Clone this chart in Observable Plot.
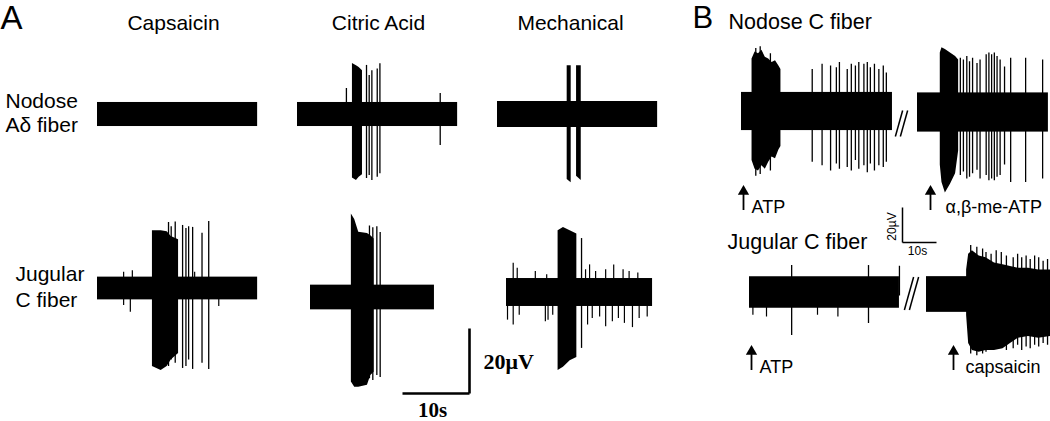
<!DOCTYPE html>
<html><head><meta charset="utf-8">
<script src="https://cdn.jsdelivr.net/npm/d3@7"></script>
<script src="https://cdn.jsdelivr.net/npm/@observablehq/plot@0.6"></script>
<style>html,body{margin:0;padding:0;background:#fff}svg{display:block}</style>
</head><body><div id="chart"></div>
<script>
// ================= DATA (time in s, voltage in µV) =================
const panelLetters = ["A", "B"];
const stimuliA = ["Capsaicin", "Citric Acid", "Mechanical"];
const fibersA = [["Nodose", "Aδ fiber"], ["Jugular", "C fiber"]];
const fibersB = ["Nodose C fiber", "Jugular C fiber"];
const stimuliB = [["ATP", "α,β-me-ATP"], ["ATP", "capsaicin"]];
const scaleBarA = {uV: 20, s: 10, vLabel: "20μV", hLabel: "10s"};
const scaleBarB = {uV: 20, s: 10, vLabel: "20µV", hLabel: "10s"};

// trace: [duration s, baseline noise ± µV]
const traceBase = {
  aNodCap: [23.9, 3.7], aNodCit: [23.9, 3.7], aNodMech: [23.9, 4.0],
  aJugCap: [23.9, 3.5], aJugCit: [18.5, 3.8], aJugMech: [21.8, 4.3],
  bNodATP: [44.4, 10.9], bNodMe: [38.5, 11.2], bJugATP: [44.1, 9.0], bJugCap: [36.5, 10.2]
};
// burst envelopes: each burst is a list of [t, top µV, bottom µV]
const burstsANodCit = [[[8.2, 15.7, -19.5], [8.8, 15.0, -20.3], [9.2, 14.5, -19.3], [9.7, 13.5, -18.5]]];
const burstsANodMech = [[[10.4, 15.0, -20.0], [11.0, 15.0, -21.0]], [[11.8, 15.0, -19.0], [12.5, 15.0, -20.3]]];
const burstsAJugCap = [[[8.2, 17.8, -24.0], [9.5, 17.8, -25.2], [10.4, 17.5, -24.0], [11.0, 16.0, -22.0], [12.1, 15.0, -20.0]]];
const burstsAJugCit = [[[6.1, 25.7, -26.0], [6.6, 24.0, -27.6], [7.2, 20.1, -27.6], [8.5, 19.7, -27.0], [9.0, 19.0, -24.0], [9.5, 18.0, -23.0]]];
const burstsAJugMech = [[[7.7, 19.0, -24.0], [8.5, 20.0, -23.0], [9.5, 19.0, -21.0], [10.5, 18.0, -20.0]]];
const burstsBNodATP = [[[3.1, 30, -28], [4.0, 34, -33], [5.0, 33, -34], [6.0, 35, -31], [7.0, 31, -33],
  [8.0, 30, -29], [9.0, 28, -26], [10.0, 29, -27], [11.0, 26, -22], [11.6, 24, -20]]];
const burstsBNodMe = [[[6.7, 34, -30], [7.2, 37, -40], [8.2, 36, -46], [9.7, 34, -41], [11.2, 32, -35], [12.1, 30, -22]]];
const burstsBJugCap = [[[11.8, 14, -12], [12.4, 23, -28], [13.5, 25, -32], [15.5, 22, -33], [17.5, 21, -32],
  [20.0, 18, -32], [22.5, 17, -31], [24.7, 16, -28], [27.0, 15, -25], [30.0, 15, -24], [33.0, 14, -25], [36.5, 14, -24]]];
// spikes: [t, top µV, bottom µV]
const spikesANodCit = [[7.3, 8.0, -2.5], [10.3, 15.1, -19.7], [10.7, 12.0, -18.8], [11.1, 13.5, -20.3],
  [11.9, 14.0, -19.3], [12.3, 15.6, -18.2], [21.3, 6.5, -9.5]];
const spikesANodMech = [];
const spikesAJugCap = [[10.6, 20.3, -24.0], [11.0, 19.0, -22.0], [11.6, 20.5, -23.0], [12.7, 19.4, -24.6],
  [13.2, 18.5, -24.0], [13.6, 19.0, -22.0], [14.2, 18.8, -24.9], [15.6, 17.0, -23.0], [16.6, 20.6, -24.9]];
const spikesAJugCit = [[8.8, 22.0, -25.0], [9.3, 21.5, -25.5], [9.9, 21.8, -24.0], [10.4, 20.0, -24.6]];
const spikesAJugMech = [[11.2, 16.6, -17.2]];
const spikesBNodATP = [[4.2, 36, -37], [5.5, 37, -36], [8.5, 33, -34], [20.8, 24, -29], [23.7, 27, -31], [26.2, 26, -34],
  [27.9, 25, -30], [28.8, 28, -33], [31.1, 24, -32], [32.3, 27, -34], [33.5, 26, -28], [34.5, 28, -33],
  [36.0, 27, -31], [37.0, 28, -35], [37.9, 25, -30], [39.1, 27, -34], [40.4, 24, -31], [41.7, 26, -32], [42.6, 22, -29]];
const spikesBNodMe = [[12.6, 31, -36], [13.5, 30, -34], [14.5, 32, -38], [15.3, 29, -37], [16.2, 31, -35],
  [17.5, 28, -33], [18.4, 30, -38], [20.2, 33, -36], [21.0, 34, -39], [21.8, 33, -38], [22.6, 34, -39],
  [23.4, 32, -37], [24.3, 30, -36], [25.6, 26, -30], [27.4, 31, -40], [31.8, 31, -40], [36.8, 30, -38]];
const spikesBJugATP = [[12.4, 15.4, -24.6], [35.0, 15.4, -17.7], [44.1, 15.0, -2.0]];
const spikesBJugCap = [[13.0, 28, -34], [14.8, 27, -35], [16.5, 26, -34], [17.5, 24, -33], [19.0, 23, -32],
  [20.5, 25, -31], [22.0, 24, -30], [23.5, 22, -32], [25.5, 21, -31], [26.8, 23, -29], [28.0, 21, -32],
  [29.3, 22, -30], [30.5, 20, -31], [31.8, 22, -29], [33.0, 21, -30], [34.3, 19, -28], [35.6, 20, -29]];
// small noise excursions: [t, µV]
const noiseAJugCap = [[3.9, 5.0], [3.9, -5.2], [4.9, -7.3], [5.2, 5.5], [18.1, -5.5], [14.5, 5.0]];
const noiseAJugMech = [[0.15, -8.5], [1.0, -10], [1.9, -7], [5.8, -9], [6.2, -8.5], [6.9, -7], [12.1, -10],
  [12.8, -8], [13.9, -7.5], [14.8, -10.5], [15.8, -9], [16.7, -8], [17.6, -9.5], [18.8, -10.8], [19.8, -8],
  [21.0, -7.5], [1.0, 9], [1.6, 7.5], [4.3, 6.5], [6.0, 5.5], [11.8, 7], [12.4, 8.5], [13.3, 6.5],
  [14.8, 7], [16.0, 8.5], [17.4, 7], [18.3, 6.5], [19.6, 6]];
const noiseBJugATP = [[1.0, -13], [5.0, -14], [20.0, -13], [26.0, -14]];

// ================= LAYOUT (pixels) =================
const W = 1050, H = 421;
const A = {sx: 6.7, sy: 3.25}, B = {sx: 3.4, sy: 1.75};
const traces = [
  {id: "aNodCap", k: A, x0: 97, y0: 114},
  {id: "aNodCit", k: A, x0: 297, y0: 114, bursts: burstsANodCit, spikes: spikesANodCit},
  {id: "aNodMech", k: A, x0: 497, y0: 114, bursts: burstsANodMech, spikes: spikesANodMech},
  {id: "aJugCap", k: A, x0: 97, y0: 288, bursts: burstsAJugCap, spikes: spikesAJugCap, noise: noiseAJugCap},
  {id: "aJugCit", k: A, x0: 310, y0: 297, bursts: burstsAJugCit, spikes: spikesAJugCit},
  {id: "aJugMech", k: A, x0: 506, y0: 292, bursts: burstsAJugMech, spikes: spikesAJugMech, noise: noiseAJugMech},
  {id: "bNodATP", k: B, x0: 741, y0: 111, bursts: burstsBNodATP, spikes: spikesBNodATP},
  {id: "bNodMe", k: B, x0: 917, y0: 112, bursts: burstsBNodMe, spikes: spikesBNodMe},
  {id: "bJugATP", k: B, x0: 749, y0: 292, spikes: spikesBJugATP, noise: noiseBJugATP},
  {id: "bJugCap", k: B, x0: 926, y0: 294, bursts: burstsBJugCap, spikes: spikesBJugCap}
];

const bands = [], envelopePts = [], spikeRules = [], noiseRules = [];
for (const tr of traces) {
  const [dur, amp] = traceBase[tr.id];
  const X = t => tr.x0 + t * tr.k.sx, Y = v => tr.y0 - v * tr.k.sy;
  bands.push({x1: X(0), x2: X(dur), y1: Y(amp), y2: Y(-amp)});
  (tr.bursts || []).forEach((env, i) => {
    for (const [t, top, bot] of env) envelopePts.push({z: tr.id + i, x: X(t), y1: Y(top), y2: Y(bot)});
  });
  for (const [t, top, bot] of (tr.spikes || [])) spikeRules.push({x: X(t), y1: Y(top), y2: Y(bot)});
  for (const [t, v] of (tr.noise || [])) noiseRules.push({x: X(t), y1: Y(0), y2: Y(v)});
}

// scale bars
const sbA = {x: 469, y: 393}, sbB = {x: 902, y: 242};
const scaleLinesA = [
  {x1: sbA.x - scaleBarA.s * A.sx, y1: sbA.y, x2: sbA.x, y2: sbA.y},
  {x1: sbA.x, y1: sbA.y, x2: sbA.x, y2: sbA.y - scaleBarA.uV * A.sy}];
const scaleLinesB = [
  {x1: sbB.x, y1: sbB.y, x2: sbB.x + scaleBarB.s * B.sx, y2: sbB.y},
  {x1: sbB.x, y1: sbB.y, x2: sbB.x, y2: sbB.y - scaleBarB.uV * B.sy}];

// break marks "//"
const breaks = [{x: 901, y: 123, h: 26}, {x: 911, y: 293, h: 33}];
const breakLines = [];
for (const b of breaks) for (const dx of [-2.5, 2.5])
  breakLines.push({x1: b.x + dx - b.h * 0.14, y1: b.y + b.h / 2, x2: b.x + dx + b.h * 0.14, y2: b.y - b.h / 2});

// stimulus arrows (B)
const arrowPos = [[{x: 743, y: 210}, {x: 930, y: 210}], [{x: 751, y: 370}, {x: 953, y: 370}]];
const arrows = [], arrowLabels = [];
stimuliB.forEach((row, i) => row.forEach((lab, j) => {
  const p = arrowPos[i][j];
  arrows.push({x: p.x, y1: p.y, y2: p.y - 22});
  arrowLabels.push({x: p.x + (j === 1 && i === 0 ? 15 : (j === 1 ? 12 : 8)), y: p.y + 2, text: lab});
}));

const textsStart = [
  {x: 0, y: 28, text: panelLetters[0], size: 33},
  {x: 692, y: 27, text: panelLetters[1], size: 31},
  {x: 5, y: 107, text: fibersA[0][0], size: 21},
  {x: 5, y: 131, text: fibersA[0][1], size: 21},
  {x: 15, y: 280, text: fibersA[1][0], size: 21},
  {x: 15, y: 306, text: fibersA[1][1], size: 21},
  {x: 728, y: 28, text: fibersB[0], size: 21.5},
  {x: 727, y: 248, text: fibersB[1], size: 21.5}
];
const textsMiddle = [
  {x: 173, y: 29, text: stimuliA[0]},
  {x: 378, y: 29, text: stimuliA[1]},
  {x: 570, y: 29, text: stimuliA[2]}
];

const sans = "Liberation Sans, Arial, sans-serif";
const serif = "Liberation Serif, Times New Roman, serif";

const plot = Plot.plot({
  width: W, height: H, margin: 0,
  x: {domain: [0, W], axis: null},
  y: {domain: [0, H], reverse: true, axis: null},
  style: {background: "#fff"},
  marks: [
    Plot.rect(bands, {x1: "x1", x2: "x2", y1: "y1", y2: "y2", fill: "#000"}),
    Plot.area(envelopePts, {x1: "x", y1: "y1", y2: "y2", z: "z", fill: "#000", curve: "linear"}),
    Plot.ruleX(spikeRules, {x: "x", y1: "y1", y2: "y2", stroke: "#000", strokeWidth: 1.3}),
    Plot.ruleX(noiseRules, {x: "x", y1: "y1", y2: "y2", stroke: "#000", strokeWidth: 1.2}),
    Plot.link(scaleLinesA, {x1: "x1", y1: "y1", x2: "x2", y2: "y2", stroke: "#000", strokeWidth: 2.6}),
    Plot.link(scaleLinesB, {x1: "x1", y1: "y1", x2: "x2", y2: "y2", stroke: "#000", strokeWidth: 1.5}),
    Plot.link(breakLines, {x1: "x1", y1: "y1", x2: "x2", y2: "y2", stroke: "#000", strokeWidth: 1.5}),
    Plot.ruleX(arrows, {x: "x", y1: "y1", y2: d => d.y2 + 4, stroke: "#000", strokeWidth: 1.8}),
    Plot.dot(arrows, {x: "x", y: d => d.y2 + 3, symbol: "triangle", r: 4.2, fill: "#000", stroke: "none"}),
    Plot.text(textsStart, {x: "x", y: "y", text: "text", fontSize: d => d.size, textAnchor: "start",
      lineAnchor: "bottom", fontFamily: sans, fill: "#000"}),
    Plot.text(textsMiddle, {x: "x", y: "y", text: "text", fontSize: 21, textAnchor: "middle",
      lineAnchor: "bottom", fontFamily: sans, fill: "#000"}),
    Plot.text(arrowLabels, {x: "x", y: "y", text: "text", fontSize: 18, textAnchor: "start",
      lineAnchor: "bottom", fontFamily: sans, fill: "#000"}),
    Plot.text([{x: sbA.x + 14, y: 368, text: scaleBarA.vLabel}], {x: "x", y: "y", text: "text", fontSize: 22,
      fontWeight: "bold", fontFamily: serif, textAnchor: "start", lineAnchor: "bottom"}),
    Plot.text([{x: 432, y: 416, text: scaleBarA.hLabel}], {x: "x", y: "y", text: "text", fontSize: 21,
      fontWeight: "bold", fontFamily: serif, textAnchor: "middle", lineAnchor: "bottom"}),
    Plot.text([{x: sbB.x - 10, y: sbB.y - 16, text: scaleBarB.vLabel}], {x: "x", y: "y", text: "text", fontSize: 12,
      rotate: -90, fontFamily: sans, textAnchor: "middle"}),
    Plot.text([{x: sbB.x + 15, y: 254, text: scaleBarB.hLabel}], {x: "x", y: "y", text: "text", fontSize: 12,
      fontFamily: sans, textAnchor: "middle", lineAnchor: "bottom"})
  ]
});
document.getElementById("chart").appendChild(plot);
</script>
</body></html>
